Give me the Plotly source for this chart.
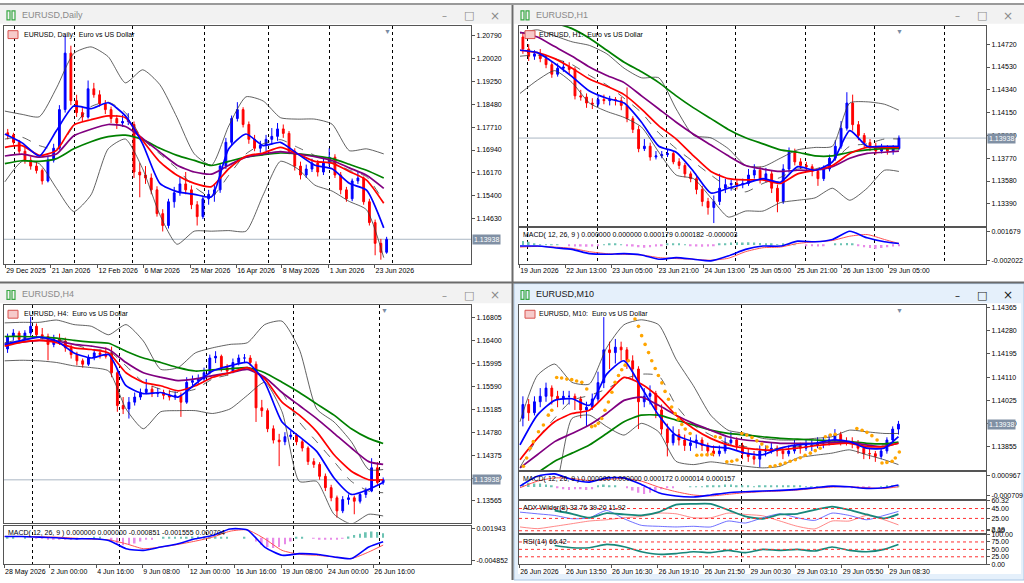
import plotly.graph_objects as go

W, H = 1024, 583
FONT = "Liberation Sans, Arial, sans-serif"
FRAME = "#555555"
UP, DOWN = "#0000ff", "#ff0000"
LAST = 1.13938

# ---------------- EURUSD Daily ----------------
d_bar = list(range(1, 134, 2))
d_open = [1.1752, 1.1745, 1.1720, 1.1690, 1.1660, 1.1640, 1.1625, 1.1590, 1.1660, 1.1700,
          1.1830, 1.2020, 1.1860, 1.1820, 1.1805, 1.1900, 1.1880, 1.1850, 1.1830, 1.1800,
          1.1785, 1.1790, 1.1780, 1.1620, 1.1610, 1.1600, 1.1560, 1.1480, 1.1440, 1.1520,
          1.1550, 1.1580, 1.1560, 1.1510, 1.1470, 1.1530, 1.1545, 1.1560, 1.1640, 1.1720,
          1.1800, 1.1830, 1.1780, 1.1730, 1.1700, 1.1710, 1.1730, 1.1740, 1.1765, 1.1750,
          1.1690, 1.1640, 1.1610, 1.1630, 1.1650, 1.1620, 1.1650, 1.1670, 1.1610, 1.1560,
          1.1530, 1.1590, 1.1600, 1.1520, 1.1450, 1.1380, 1.1350]
d_high = [1.1765, 1.1752, 1.1728, 1.1705, 1.1672, 1.1655, 1.1632, 1.1672, 1.1715, 1.1845,
          1.2080, 1.2045, 1.1880, 1.1835, 1.1928, 1.1920, 1.1895, 1.1862, 1.1840, 1.1812,
          1.1812, 1.1818, 1.1790, 1.1650, 1.1640, 1.1615, 1.1572, 1.1495, 1.1530, 1.1570,
          1.1605, 1.1620, 1.1575, 1.1522, 1.1540, 1.1560, 1.1580, 1.1650, 1.1735, 1.1810,
          1.1855, 1.1838, 1.1790, 1.1745, 1.1725, 1.1745, 1.1768, 1.1785, 1.1780, 1.1758,
          1.1700, 1.1655, 1.1645, 1.1665, 1.1660, 1.1665, 1.1700, 1.1680, 1.1620, 1.1570,
          1.1598, 1.1620, 1.1605, 1.1530, 1.1460, 1.1395, 1.1402]
d_low = [1.1730, 1.1712, 1.1680, 1.1648, 1.1628, 1.1615, 1.1578, 1.1585, 1.1652, 1.1695,
         1.1820, 1.1845, 1.1805, 1.1790, 1.1800, 1.1870, 1.1840, 1.1815, 1.1785, 1.1765,
         1.1772, 1.1778, 1.1600, 1.1535, 1.1580, 1.1545, 1.1470, 1.1420, 1.1430, 1.1500,
         1.1540, 1.1545, 1.1495, 1.1440, 1.1462, 1.1510, 1.1520, 1.1550, 1.1630, 1.1710,
         1.1790, 1.1770, 1.1715, 1.1690, 1.1685, 1.1690, 1.1712, 1.1725, 1.1735, 1.1680,
         1.1625, 1.1595, 1.1600, 1.1620, 1.1605, 1.1610, 1.1640, 1.1600, 1.1545, 1.1520,
         1.1522, 1.1580, 1.1510, 1.1440, 1.1340, 1.1325, 1.1345]
d_close = [1.1745, 1.1720, 1.1690, 1.1660, 1.1640, 1.1625, 1.1590, 1.1660, 1.1700, 1.1830,
           1.2020, 1.1860, 1.1820, 1.1805, 1.1900, 1.1880, 1.1850, 1.1830, 1.1800, 1.1785,
           1.1790, 1.1795, 1.1620, 1.1610, 1.1600, 1.1560, 1.1480, 1.1440, 1.1520, 1.1550,
           1.1580, 1.1560, 1.1510, 1.1470, 1.1530, 1.1545, 1.1560, 1.1640, 1.1720, 1.1800,
           1.1830, 1.1780, 1.1730, 1.1700, 1.1710, 1.1730, 1.1740, 1.1765, 1.1750, 1.1690,
           1.1640, 1.1610, 1.1630, 1.1650, 1.1620, 1.1650, 1.1670, 1.1610, 1.1560, 1.1530,
           1.1590, 1.1600, 1.1520, 1.1450, 1.1380, 1.1350, 1.13938]
d_line_x = [0, 6, 12, 18, 24, 30, 36, 42, 48, 54, 60, 66, 72, 78, 84, 90, 96, 102, 108, 114, 120, 126, 132]
d_ma_blue = [1.1748, 1.1718, 1.1674, 1.1760, 1.1842, 1.1833, 1.1853, 1.1809, 1.1715, 1.1582, 1.1554, 1.1545,
             1.1537, 1.1698, 1.1748, 1.1709, 1.1720, 1.1681, 1.1643, 1.1631, 1.1582, 1.1559, 1.1432]
d_ma_red = [1.1703, 1.1709, 1.1676, 1.1693, 1.1778, 1.1796, 1.1809, 1.1803, 1.1726, 1.1654, 1.1609, 1.1582,
            1.1571, 1.1631, 1.1673, 1.1684, 1.1703, 1.1681, 1.1656, 1.1650, 1.1622, 1.1593, 1.1515]
d_ma_purple = [1.1674, 1.1680, 1.1670, 1.1681, 1.1742, 1.1764, 1.1780, 1.1773, 1.1733, 1.1687, 1.1643, 1.1620,
               1.1613, 1.1643, 1.1670, 1.1681, 1.1689, 1.1681, 1.1672, 1.1659, 1.1634, 1.1609, 1.1565]
d_ma_green = [1.1648, 1.1658, 1.1656, 1.1665, 1.1698, 1.1722, 1.1739, 1.1744, 1.1729, 1.1700, 1.1676, 1.1659,
              1.1642, 1.1656, 1.1670, 1.1678, 1.1684, 1.1681, 1.1674, 1.1665, 1.1646, 1.1626, 1.1600]
d_bb_mid = [1.1731, 1.1737, 1.1709, 1.1698, 1.1775, 1.1840, 1.1855, 1.1820, 1.1731, 1.1681, 1.1631, 1.1570,
            1.1537, 1.1609, 1.1681, 1.1715, 1.1729, 1.1703, 1.1676, 1.1654, 1.1626, 1.1604, 1.1521]
d_bb_up = [1.1825, 1.1814, 1.1806, 1.1903, 1.2019, 1.2041, 1.2008, 1.1920, 1.1964, 1.1914, 1.1803, 1.1681,
           1.1643, 1.1775, 1.1873, 1.1859, 1.1803, 1.1798, 1.1798, 1.1781, 1.1692, 1.1698, 1.1681]
d_bb_lo = [1.1587, 1.1656, 1.1648, 1.1565, 1.1487, 1.1543, 1.1698, 1.1731, 1.1631, 1.1476, 1.1377, 1.1421,
           1.1421, 1.1423, 1.1421, 1.1543, 1.1656, 1.1631, 1.1576, 1.1556, 1.1521, 1.1493, 1.1332]
d_price_ticks = [1.20790, 1.20020, 1.19250, 1.18480, 1.17710, 1.16940, 1.16170, 1.15400, 1.14630]
d_date_pos = [0.1, 16, 32.3, 48.3, 64.5, 80.6, 96.5, 112.8, 128.8]
d_date_text = ["29 Dec 2025", "21 Jan 2026", "12 Feb 2026", "6 Mar 2026", "25 Mar 2026",
               "16 Apr 2026", "8 May 2026", "1 Jun 2026", "23 Jun 2026"]
d_separators = [3.25, 24.4, 44.5, 69.7, 91.8, 113, 135.1]

# ---------------- EURUSD H1 ----------------
h1_bar = list(range(1, 132, 2))
h1_open = [1.1478, 1.1468, 1.1462, 1.1464, 1.1460, 1.1455, 1.1447, 1.1452, 1.1453, 1.1451,
           1.1429, 1.1428, 1.1423, 1.1422, 1.1426, 1.1425, 1.1426, 1.1425, 1.1421, 1.1410,
           1.1401, 1.1385, 1.1387, 1.1378, 1.1379, 1.1380, 1.1381, 1.1374, 1.1371, 1.1364,
           1.1360, 1.1351, 1.1341, 1.1336, 1.1341, 1.1352, 1.1355, 1.1356, 1.1355, 1.1356,
           1.1363, 1.1367, 1.1360, 1.1364, 1.1352, 1.1341, 1.1368, 1.1382, 1.1374, 1.1371,
           1.1370, 1.1366, 1.1360, 1.1368, 1.1377, 1.1387, 1.1402, 1.1423, 1.1405, 1.1396,
           1.1390, 1.1387, 1.1383, 1.1385, 1.1383, 1.1385]
h1_high = [1.1482, 1.1472, 1.1467, 1.1468, 1.1463, 1.1458, 1.1456, 1.1458, 1.1457, 1.1453,
           1.1434, 1.1431, 1.1427, 1.1429, 1.1430, 1.1429, 1.1428, 1.1428, 1.1436, 1.1412,
           1.1404, 1.1393, 1.1390, 1.1383, 1.1383, 1.1384, 1.1383, 1.1377, 1.1373, 1.1366,
           1.1362, 1.1354, 1.1344, 1.1346, 1.1364, 1.1360, 1.1359, 1.1359, 1.1360, 1.1368,
           1.1372, 1.1370, 1.1369, 1.1367, 1.1355, 1.1372, 1.1386, 1.1385, 1.1377, 1.1374,
           1.1372, 1.1368, 1.1371, 1.1380, 1.1392, 1.1408, 1.1432, 1.1430, 1.1408, 1.1398,
           1.1393, 1.1390, 1.1389, 1.1388, 1.1388, 1.1396]
h1_low = [1.1464, 1.1458, 1.1459, 1.1457, 1.1452, 1.1444, 1.1445, 1.1449, 1.1447, 1.1426,
          1.1425, 1.1419, 1.1418, 1.1420, 1.1422, 1.1421, 1.1421, 1.1417, 1.1407, 1.1398,
          1.1382, 1.1383, 1.1375, 1.1376, 1.1377, 1.1378, 1.1372, 1.1368, 1.1361, 1.1357,
          1.1347, 1.1337, 1.1330, 1.1323, 1.1338, 1.1348, 1.1350, 1.1351, 1.1352, 1.1354,
          1.1360, 1.1356, 1.1357, 1.1348, 1.1332, 1.1339, 1.1365, 1.1371, 1.1368, 1.1366,
          1.1362, 1.1354, 1.1358, 1.1366, 1.1375, 1.1385, 1.1400, 1.1400, 1.1392, 1.1386,
          1.1383, 1.1380, 1.1381, 1.1380, 1.1380, 1.1384]
h1_close = [1.1468, 1.1462, 1.1464, 1.1460, 1.1455, 1.1447, 1.1452, 1.1453, 1.1451, 1.1429,
            1.1428, 1.1423, 1.1422, 1.1426, 1.1425, 1.1426, 1.1425, 1.1421, 1.1410, 1.1401,
            1.1385, 1.1387, 1.1378, 1.1379, 1.1380, 1.1381, 1.1374, 1.1371, 1.1364, 1.1360,
            1.1351, 1.1341, 1.1336, 1.1341, 1.1352, 1.1355, 1.1356, 1.1355, 1.1356, 1.1363,
            1.1367, 1.1360, 1.1364, 1.1352, 1.1341, 1.1368, 1.1382, 1.1374, 1.1371, 1.1370,
            1.1366, 1.1360, 1.1368, 1.1377, 1.1387, 1.1402, 1.1423, 1.1405, 1.1396, 1.1390,
            1.1387, 1.1383, 1.1385, 1.1383, 1.1385, 1.13938]
h1_line_x = [0, 6, 12, 18, 24, 30, 36, 42, 48, 54, 60, 66, 72, 78, 84, 90, 96, 102, 108, 114, 120, 126, 131]
h1_ma_blue = [1.1467, 1.1465, 1.1456, 1.1445, 1.1433, 1.1427, 1.1423, 1.1407, 1.1387, 1.1382, 1.1366, 1.1348,
              1.1352, 1.1356, 1.1360, 1.1357, 1.1370, 1.1367, 1.1374, 1.1400, 1.1387, 1.1387, 1.1387]
h1_ma_red = [1.1467, 1.1465, 1.1460, 1.1452, 1.1443, 1.1437, 1.1430, 1.1418, 1.1404, 1.1393, 1.1379, 1.1366,
             1.1360, 1.1359, 1.1359, 1.1356, 1.1364, 1.1367, 1.1371, 1.1381, 1.1386, 1.1386, 1.1386]
h1_ma_purple = [1.1482, 1.1478, 1.1470, 1.1462, 1.1453, 1.1446, 1.1440, 1.1429, 1.1418, 1.1407, 1.1397, 1.1388,
                1.1379, 1.1371, 1.1368, 1.1366, 1.1367, 1.1367, 1.1370, 1.1377, 1.1381, 1.1382, 1.1383]
h1_ma_green = [1.1503, 1.1496, 1.1490, 1.1485, 1.1477, 1.1467, 1.1457, 1.1449, 1.1440, 1.1429, 1.1419, 1.1410,
               1.1401, 1.1394, 1.1389, 1.1384, 1.1382, 1.1379, 1.1379, 1.1382, 1.1384, 1.1385, 1.1385]
h1_bb_mid = [1.1462, 1.1463, 1.1460, 1.1455, 1.1446, 1.1438, 1.1427, 1.1415, 1.1398, 1.1385, 1.1374, 1.1363,
             1.1353, 1.1349, 1.1356, 1.1361, 1.1368, 1.1368, 1.1374, 1.1387, 1.1389, 1.1393, 1.1393]
h1_bb_up = [1.1481, 1.1484, 1.1479, 1.1474, 1.1471, 1.1464, 1.1452, 1.1444, 1.1444, 1.1418, 1.1396, 1.1394,
            1.1385, 1.1371, 1.1370, 1.1377, 1.1384, 1.1386, 1.1387, 1.1423, 1.1424, 1.1422, 1.1417]
h1_bb_lo = [1.1431, 1.1442, 1.1450, 1.1440, 1.1423, 1.1416, 1.1411, 1.1403, 1.1382, 1.1363, 1.1360, 1.1344,
            1.1328, 1.1333, 1.1333, 1.1340, 1.1342, 1.1344, 1.1352, 1.1342, 1.1352, 1.1367, 1.1366]
h1_macd = [-0.000148, -0.000148, -0.000361, -0.000574, -0.001126, -0.001211, -0.001126, -0.001296, -0.001849,
           -0.001636, -0.001849, -0.002061, -0.001424, -0.000574, -0.000148, -0.000148, 0.000489, 0.000404,
           0.000702, 0.001764, 0.000914, 0.000404, 0.000179]
h1_signal = [-0.000276, -0.000191, -0.000276, -0.000446, -0.000871, -0.001126, -0.001211, -0.001296, -0.001636,
             -0.001764, -0.001849, -0.001976, -0.001721, -0.000871, -0.000361, -0.000276, 0.000192, 0.000404,
             0.000574, 0.001126, 0.001339, 0.000702, 0.000182]
h1_hist = [0.0005, 0.0004, 0.0001, 0.00005, 0.00005, 0.00003, 0.00002, 0.0, -0.0001, -0.0002,
           -0.0002, -0.00025, -0.0002, -0.00015, 0.00005, 0.0001, 0.0001, 0.00005, -0.0001, -0.0002,
           -0.0003, -0.00035, -0.0003, -0.0002, -0.0001, 0.0001, 0.00015, 0.0001, 0.00002, -0.0001,
           -0.0002, -0.00025, -0.0002, -0.0001, 0.0001, 0.0002, 0.0003, 0.00035, 0.0003, 0.00035,
           0.0003, 0.00025, 0.0002, 0.0001, 0.00005, 0.0001, 0.0001, 0.00005, 0.0, -0.0001,
           -0.00015, -0.0002, -0.0001, 0.0, 0.0001, 0.0002, 0.00025, 0.0002, -0.0001, -0.0003,
           -0.0004, -0.0005, -0.0004, -0.0003, -0.0002, -0.0001]
h1_price_ticks = [1.14720, 1.14530, 1.14340, 1.14150, 1.13960, 1.13770, 1.13580, 1.13390]
h1_macd_ticks = [0.001679, -0.002022]
h1_date_pos = [-0.3, 15.6, 31.5, 47.5, 63.4, 79.4, 95.4, 111.3, 127.3]
h1_date_text = ["19 Jun 2026", "22 Jun 13:00", "23 Jun 05:00", "23 Jun 21:00", "24 Jun 13:00",
                "25 Jun 05:00", "25 Jun 21:00", "26 Jun 13:00", "29 Jun 05:00"]
h1_separators = [2.65, 26.8, 50.8, 74.6, 98.6, 122.6, 146.7]

# ---------------- EURUSD H4 ----------------
h4_bar = list(range(1, 132, 2))
h4_open = [1.1625, 1.1647, 1.1653, 1.1642, 1.1653, 1.1665, 1.1650, 1.1647, 1.1633, 1.1642,
           1.1639, 1.1627, 1.1615, 1.1604, 1.1598, 1.1610, 1.1618, 1.1615, 1.1617, 1.1583,
           1.1525, 1.1519, 1.1531, 1.1540, 1.1548, 1.1554, 1.1546, 1.1548, 1.1543, 1.1540,
           1.1543, 1.1531, 1.1566, 1.1569, 1.1572, 1.1583, 1.1609, 1.1612, 1.1592, 1.1586,
           1.1601, 1.1609, 1.1609, 1.1598, 1.1521, 1.1516, 1.1484, 1.1464, 1.1461, 1.1470,
           1.1473, 1.1461, 1.1450, 1.1426, 1.1421, 1.1400, 1.1380, 1.1362, 1.1339, 1.1359,
           1.1362, 1.1356, 1.1368, 1.1374, 1.1415, 1.1389]
h4_high = [1.1652, 1.1660, 1.1657, 1.1658, 1.1682, 1.1670, 1.1662, 1.1652, 1.1650, 1.1652,
           1.1645, 1.1632, 1.1620, 1.1608, 1.1615, 1.1625, 1.1624, 1.1628, 1.1629, 1.1590,
           1.1540, 1.1540, 1.1548, 1.1555, 1.1572, 1.1560, 1.1556, 1.1553, 1.1552, 1.1550,
           1.1548, 1.1575, 1.1578, 1.1580, 1.1592, 1.1615, 1.1621, 1.1615, 1.1598, 1.1608,
           1.1615, 1.1616, 1.1614, 1.1603, 1.1535, 1.1520, 1.1490, 1.1475, 1.1478, 1.1480,
           1.1476, 1.1465, 1.1453, 1.1432, 1.1425, 1.1405, 1.1385, 1.1366, 1.1365, 1.1368,
           1.1366, 1.1372, 1.1380, 1.1432, 1.1425, 1.1398]
h4_low = [1.1618, 1.1640, 1.1635, 1.1638, 1.1648, 1.1645, 1.1642, 1.1605, 1.1628, 1.1632,
          1.1620, 1.1608, 1.1596, 1.1592, 1.1595, 1.1605, 1.1608, 1.1608, 1.1575, 1.1514,
          1.1510, 1.1502, 1.1525, 1.1535, 1.1545, 1.1540, 1.1540, 1.1536, 1.1534, 1.1535,
          1.1505, 1.1528, 1.1560, 1.1562, 1.1568, 1.1580, 1.1600, 1.1585, 1.1578, 1.1582,
          1.1596, 1.1600, 1.1595, 1.1496, 1.1505, 1.1478, 1.1458, 1.1418, 1.1455, 1.1465,
          1.1455, 1.1444, 1.1420, 1.1415, 1.1394, 1.1374, 1.1356, 1.1327, 1.1335, 1.1350,
          1.1333, 1.1352, 1.1362, 1.1372, 1.1385, 1.1385]
h4_close = [1.1647, 1.1653, 1.1642, 1.1653, 1.1665, 1.1650, 1.1647, 1.1633, 1.1642, 1.1639,
            1.1627, 1.1615, 1.1604, 1.1598, 1.1610, 1.1618, 1.1615, 1.1612, 1.1583, 1.1525,
            1.1519, 1.1531, 1.1540, 1.1548, 1.1554, 1.1546, 1.1548, 1.1543, 1.1540, 1.1543,
            1.1531, 1.1566, 1.1569, 1.1572, 1.1583, 1.1609, 1.1612, 1.1592, 1.1586, 1.1601,
            1.1609, 1.1609, 1.1601, 1.1521, 1.1516, 1.1484, 1.1464, 1.1461, 1.1470, 1.1473,
            1.1461, 1.1450, 1.1426, 1.1421, 1.1400, 1.1380, 1.1362, 1.1339, 1.1359, 1.1362,
            1.1356, 1.1368, 1.1374, 1.1415, 1.1389, 1.13938]
h4_line_x = [0, 6, 12, 18, 24, 30, 36, 42, 48, 54, 60, 66, 72, 78, 84, 90, 96, 102, 108, 114, 120, 126, 131]
h4_ma_blue = [1.1633, 1.1640, 1.1646, 1.1639, 1.1618, 1.1609, 1.1615, 1.1560, 1.1546, 1.1548, 1.1540, 1.1563,
              1.1586, 1.1595, 1.1601, 1.1566, 1.1496, 1.1470, 1.1444, 1.1397, 1.1368, 1.1377, 1.1389]
h4_ma_red = [1.1630, 1.1637, 1.1640, 1.1636, 1.1627, 1.1624, 1.1618, 1.1583, 1.1566, 1.1560, 1.1551, 1.1560,
             1.1575, 1.1583, 1.1592, 1.1572, 1.1531, 1.1508, 1.1479, 1.1438, 1.1409, 1.1394, 1.1394]
h4_ma_purple = [1.1633, 1.1637, 1.1640, 1.1639, 1.1633, 1.1630, 1.1624, 1.1601, 1.1583, 1.1575, 1.1569, 1.1572,
                1.1578, 1.1583, 1.1589, 1.1575, 1.1548, 1.1525, 1.1502, 1.1476, 1.1450, 1.1426, 1.1421]
h4_ma_green = [1.1647, 1.1647, 1.1646, 1.1644, 1.1640, 1.1637, 1.1635, 1.1621, 1.1609, 1.1601, 1.1592, 1.1586,
               1.1588, 1.1590, 1.1592, 1.1583, 1.1566, 1.1548, 1.1528, 1.1508, 1.1484, 1.1467, 1.1458]
h4_bb_mid = [1.1636, 1.1642, 1.1644, 1.1642, 1.1633, 1.1624, 1.1621, 1.1595, 1.1566, 1.1554, 1.1548, 1.1554,
             1.1572, 1.1580, 1.1592, 1.1575, 1.1548, 1.1496, 1.1461, 1.1426, 1.1391, 1.1374, 1.1371]
h4_bb_up = [1.1671, 1.1672, 1.1672, 1.1676, 1.1668, 1.1665, 1.1650, 1.1668, 1.1639, 1.1589, 1.1592, 1.1618,
            1.1627, 1.1633, 1.1636, 1.1668, 1.1674, 1.1624, 1.1519, 1.1496, 1.1461, 1.1412, 1.1412]
h4_bb_lo = [1.1604, 1.1605, 1.1604, 1.1601, 1.1595, 1.1592, 1.1586, 1.1519, 1.1484, 1.1514, 1.1516, 1.1516,
            1.1511, 1.1519, 1.1543, 1.1566, 1.1514, 1.1391, 1.1391, 1.1333, 1.1316, 1.1333, 1.1330]
h4_macd = [0.000299, 0.000299, 0.000156, 0.000013, -0.000202, -0.000202, -0.000560, -0.002347, -0.002705,
           -0.001990, -0.001275, -0.000202, 0.000513, 0.001943, 0.001729, -0.001990, -0.003777, -0.003420,
           -0.003563, -0.004135, -0.004492, -0.001990, -0.000851]
h4_signal = [0.000299, 0.000299, 0.000227, 0.000156, -0.000059, -0.000274, -0.000417, -0.001275, -0.002347,
             -0.001990, -0.001418, -0.000703, 0.000156, 0.001443, 0.001729, -0.000202, -0.002705, -0.003563,
             -0.003777, -0.004135, -0.004492, -0.003063, -0.001555]
h4_hist = [0.00005, 0.00005, 0.0, 0.00005, 0.0, -0.00005, -0.0001, -0.0002, -0.0002, -0.0003,
           -0.0003, -0.0003, -0.0002, -0.0001, 0.0, 0.0001, 0.0001, 0.0, -0.0006, -0.0012,
           -0.0016, -0.0015, -0.0012, -0.0008, -0.0004, -0.0002, 0.0, 0.0001, 0.0002, 0.0002,
           0.0001, 0.0002, 0.0003, 0.0003, 0.0003, 0.0002, 0.0002, 0.0001, 0.0001, 0.0,
           0.0, 0.0001, 0.0, -0.0008, -0.0015, -0.0020, -0.0022, -0.0020, -0.0014, -0.0008,
           0.0001, 0.0002, 0.0, -0.0001, -0.0003, -0.0004, -0.0004, -0.0003, -0.0001, 0.0003,
           0.0006, 0.0009, 0.0012, 0.0014, 0.0013, 0.0010]
h4_price_ticks = [1.16805, 1.16400, 1.15995, 1.15590, 1.15185, 1.14780, 1.14375, 1.13970, 1.13565]
h4_macd_ticks = [0.001943, -0.004852]
h4_date_pos = [-0.2, 15.6, 31.7, 47.6, 63.7, 79.7, 95.7, 111.6, 127.6]
h4_date_text = ["28 May 2026", "2 Jun 00:00", "4 Jun 16:00", "9 Jun 08:00", "12 Jun 00:00",
                "16 Jun 16:00", "19 Jun 08:00", "24 Jun 00:00", "26 Jun 16:00"]
h4_separators = [9.8, 39.8, 69.8, 99.8, 129.8]

# ---------------- EURUSD M10 ----------------
m10_bar = list(range(1, 132, 2))
m10_open = [1.1396, 1.1401, 1.1398, 1.1402, 1.1404, 1.1407, 1.1404, 1.1403, 1.1404, 1.1404,
            1.1403, 1.1399, 1.1400, 1.1403, 1.1409, 1.1421, 1.1420, 1.1422, 1.1421, 1.1417,
            1.1414, 1.1402, 1.1404, 1.1405, 1.1399, 1.1392, 1.1387, 1.1390, 1.1388, 1.1386,
            1.1387, 1.1388, 1.1386, 1.1384, 1.1383, 1.1384, 1.1387, 1.1388, 1.1386, 1.1383,
            1.1382, 1.1381, 1.1384, 1.1384, 1.1385, 1.1384, 1.1383, 1.1384, 1.1386, 1.1385,
            1.1386, 1.1386, 1.1387, 1.1387, 1.1388, 1.1390, 1.1387, 1.1387, 1.1387, 1.1385,
            1.1383, 1.1383, 1.1382, 1.1384, 1.1388, 1.1392]
m10_high = [1.1404, 1.1403, 1.1404, 1.1407, 1.1409, 1.1408, 1.1406, 1.1406, 1.1406, 1.1405,
            1.1404, 1.1402, 1.1405, 1.1413, 1.1433, 1.1424, 1.1425, 1.1424, 1.1422, 1.1419,
            1.1415, 1.1407, 1.1408, 1.1406, 1.1401, 1.1394, 1.1393, 1.1392, 1.1390, 1.1389,
            1.1390, 1.1389, 1.1387, 1.1386, 1.1386, 1.1389, 1.1391, 1.1389, 1.1387, 1.1385,
            1.1384, 1.1386, 1.1386, 1.1387, 1.1386, 1.1385, 1.1386, 1.1388, 1.1387, 1.1388,
            1.1388, 1.1389, 1.1389, 1.1390, 1.1392, 1.1391, 1.1389, 1.1389, 1.1388, 1.1386,
            1.1385, 1.1384, 1.1385, 1.1389, 1.1393, 1.1395]
m10_low = [1.1393, 1.1395, 1.1397, 1.1400, 1.1402, 1.1401, 1.1400, 1.1401, 1.1401, 1.1399,
           1.1396, 1.1393, 1.1399, 1.1402, 1.1407, 1.1414, 1.1416, 1.1417, 1.1414, 1.1410,
           1.1392, 1.1400, 1.1401, 1.1396, 1.1390, 1.1382, 1.1386, 1.1386, 1.1384, 1.1384,
           1.1385, 1.1384, 1.1382, 1.1382, 1.1382, 1.1383, 1.1386, 1.1384, 1.1381, 1.1380,
           1.1379, 1.1378, 1.1382, 1.1383, 1.1382, 1.1381, 1.1382, 1.1383, 1.1383, 1.1384,
           1.1384, 1.1385, 1.1385, 1.1386, 1.1387, 1.1386, 1.1386, 1.1385, 1.1383, 1.1381,
           1.1381, 1.1380, 1.1381, 1.1383, 1.1387, 1.1390]
m10_close = [1.1401, 1.1398, 1.1402, 1.1404, 1.1407, 1.1404, 1.1403, 1.1404, 1.1404, 1.1403,
             1.1399, 1.1400, 1.1403, 1.1409, 1.1421, 1.1420, 1.1422, 1.1421, 1.1417, 1.1414,
             1.1402, 1.1404, 1.1405, 1.1399, 1.1392, 1.1387, 1.1390, 1.1388, 1.1386, 1.1387,
             1.1388, 1.1386, 1.1384, 1.1383, 1.1384, 1.1387, 1.1388, 1.1386, 1.1383, 1.1382,
             1.1381, 1.1384, 1.1384, 1.1385, 1.1384, 1.1383, 1.1384, 1.1386, 1.1385, 1.1386,
             1.1386, 1.1387, 1.1387, 1.1388, 1.1390, 1.1387, 1.1387, 1.1387, 1.1385, 1.1383,
             1.1383, 1.1382, 1.1384, 1.1388, 1.1392, 1.13938]
m10_line_x = [0, 6, 12, 18, 24, 30, 36, 42, 48, 54, 60, 66, 72, 78, 84, 90, 96, 102, 108, 114, 120, 126, 131]
m10_ma_blue = [1.13862, 1.13971, 1.14025, 1.14031, 1.14007, 1.14121, 1.14170, 1.14073, 1.13971, 1.13898,
               1.13874, 1.13856, 1.13850, 1.13832, 1.13826, 1.13850, 1.13862, 1.13868, 1.13880, 1.13874,
               1.13850, 1.13850, 1.13892]
m10_ma_red = [1.13808, 1.13886, 1.13947, 1.13977, 1.13989, 1.14049, 1.14109, 1.14085, 1.14037, 1.13971,
              1.13922, 1.13886, 1.13862, 1.13850, 1.13844, 1.13844, 1.13850, 1.13859, 1.13865, 1.13868,
              1.13856, 1.13856, 1.13868]
m10_ma_purple = [1.13778, 1.13826, 1.13874, 1.13904, 1.13935, 1.13977, 1.14025, 1.14037, 1.14007, 1.13971,
                 1.13941, 1.13916, 1.13892, 1.13880, 1.13874, 1.13868, 1.13868, 1.13868, 1.13871, 1.13872,
                 1.13862, 1.13856, 1.13868]
m10_ma_green = [1.13730, 1.13760, 1.13802, 1.13832, 1.13862, 1.13904, 1.13947, 1.13971, 1.13971, 1.13953,
                1.13935, 1.13916, 1.13904, 1.13898, 1.13892, 1.13886, 1.13883, 1.13880, 1.13877, 1.13874,
                1.13868, 1.13866, 1.13872]
m10_bb_mid = [1.13780, 1.13885, 1.13960, 1.14025, 1.14043, 1.14067, 1.14103, 1.14121, 1.14115, 1.14007,
              1.13935, 1.13898, 1.13868, 1.13856, 1.13844, 1.13850, 1.13856, 1.13862, 1.13868, 1.13874,
              1.13862, 1.13862, 1.13874]
m10_bb_up = [1.13947, 1.14116, 1.14158, 1.14091, 1.14085, 1.14218, 1.14302, 1.14320, 1.14302, 1.14176,
             1.14079, 1.13971, 1.13916, 1.13904, 1.13886, 1.13880, 1.13880, 1.13886, 1.13892, 1.13916,
             1.13910, 1.13904, 1.13904]
m10_bb_lo = [1.13616, 1.13652, 1.13700, 1.13959, 1.13971, 1.13929, 1.13898, 1.13941, 1.13910, 1.13802,
             1.13790, 1.13800, 1.13792, 1.13784, 1.13778, 1.13784, 1.13814, 1.13824, 1.13832, 1.13844,
             1.13826, 1.13808, 1.13790]
m10_sar_x = [1.2, 2.3, 3.5, 4.6, 6.4, 8.1, 9.8, 11.0,
             12.7, 14.4, 16.2, 17.9, 19.6, 21.4, 23.1,
             24.8, 26.0, 27.1, 28.3, 29.4, 30.6, 31.8, 32.9, 34.1, 35.2, 36.4, 37.5,
             39.8, 41.0, 42.1, 43.3, 44.5, 45.6, 46.8, 47.9, 49.1, 50.2, 51.4, 52.5, 53.7, 54.8, 56.0, 57.2, 58.9,
             61.2, 62.9, 64.7, 66.4,
             67.6, 69.3,
             71.6, 73.3, 75.1,
             76.8, 78.5, 80.3, 82.0, 83.7, 85.5,
             86.6, 88.3, 90.1, 91.8, 93.5, 95.3, 97.0, 98.7, 100.5, 102.2, 103.9,
             105.7, 107.4, 109.1,
             116.6, 118.4, 120.1, 121.8, 123.6,
             125.3, 127.0, 128.8, 129.9, 131.3]
m10_sar_y = [1.13784, 1.13814, 1.13850, 1.13874, 1.13910, 1.13935, 1.13971, 1.13989,
             1.14109, 1.14107, 1.14103, 1.14101, 1.14096, 1.14091, 1.14067,
             1.13929, 1.13932, 1.13941, 1.13959, 1.13989, 1.14019, 1.14055, 1.14091, 1.14116, 1.14137, 1.14154, 1.14170,
             1.14323, 1.14296, 1.14262, 1.14230, 1.14200, 1.14170, 1.14142, 1.14116, 1.14089, 1.14058, 1.14029,
             1.14001, 1.13977, 1.13956, 1.13937, 1.13920, 1.13904,
             1.13824, 1.13825, 1.13826, 1.13828,
             1.13892, 1.13889,
             1.13800, 1.13802, 1.13807,
             1.13904, 1.13898, 1.13889, 1.13877, 1.13865, 1.13854,
             1.13783, 1.13786, 1.13791, 1.13796, 1.13802, 1.13808, 1.13815, 1.13824, 1.13832, 1.13841, 1.13850,
             1.13892, 1.13898, 1.13901,
             1.13922, 1.13916, 1.13908, 1.13896, 1.13880,
             1.13796, 1.13798, 1.13802, 1.13814, 1.13836]
m10_macd = [0.000074, 0.000911, 0.001107, 0.000632, 0.000409, 0.000772, 0.000772, 0.000214, -0.000484,
            -0.000763, -0.000847, -0.000679, -0.000484, -0.000400, -0.000344, -0.000289, -0.000205, -0.000065,
            0.000074, 0.000018, -0.000121, -0.000065, 0.000172]
m10_signal = [-0.000065, 0.000493, 0.000772, 0.000716, 0.000549, 0.000632, 0.000716, 0.000493, -0.000010,
              -0.000400, -0.000679, -0.000763, -0.000623, -0.000484, -0.000400, -0.000344, -0.000261, -0.000121,
              -0.000010, 0.000018, -0.000065, -0.000121, 0.000014]
m10_hist = [0.0003, 0.00035, 0.0003, 0.0003, 0.0002, 0.0001, -0.0001, -0.0002, -0.00025, -0.0002,
            -0.0002, -0.00025, -0.0002, 0.0001, 0.0002, 0.00015, 0.0001, 0.0, -0.0001, -0.0003,
            -0.0005, -0.0006, -0.0005, -0.0004, -0.0002, -0.0001, -0.00005, 0.0, 0.0, 0.00003,
            0.00003, 0.00005, 0.0001, 0.0001, 0.00015, 0.0002, 0.0002, 0.00015, 0.0001, 0.0001,
            0.00005, 0.0001, 0.0001, 0.0001, 0.0001, 0.0001, 0.0001, 0.00008, 0.00008, 0.00005,
            0.00005, 0.00005, 0.00005, 0.00003, 0.00005, 0.0, 0.0, -0.00003, -0.00005, -0.00005,
            -0.00003, 0.0, 0.00005, 0.0001, 0.00015, 0.00015]
m10_adx = [None, None, 41.0, 34.3, 26.3, 35.7, 33.0, 31.0, 37.7, 53.0, 54.3, 54.3, 42.3, 29.0, 24.3, 33.0,
           34.3, 42.3, 49.0, 42.3, 33.0, 25.0, 33.76]
m10_plus_di = [37.7, 34.3, 31.0, 24.3, 26.3, 41.0, 24.3, 11.0, 9.0, 7.7, 9.0, 7.7, 19.7, 15.7, 26.3, 34.3,
               26.3, 21.0, 35.7, 31.0, 22.3, 31.0, 39.20]
m10_minus_di = [7.7, 4.3, 9.0, 14.3, 19.7, 22.3, 26.3, 29.0, 35.7, 34.3, 26.3, 26.3, 35.7, 33.0, 30.3, 19.7,
                9.0, 3.7, 19.7, 19.7, 31.0, 22.3, 11.92]
m10_rsi = [None, None, 63.3, 55.6, 55.6, 66.7, 58.9, 42.2, 33.3, 35.6, 42.2, 38.9, 46.7, 38.9, 50.0, 46.7,
           50.0, 44.4, 57.8, 46.7, 42.2, 50.0, 66.42]
m10_price_ticks = [1.14365, 1.14280, 1.14195, 1.14110, 1.14025, 1.13940, 1.13855]
m10_macd_ticks = [0.000967, -0.000709]
adx_ticks = [60.32, 45.0, 25.0, 2.19, 0.0]
adx_levels = [45, 25, 0]
rsi_ticks = [100, 75, 50, 25, 0]
rsi_levels = [75, 50, 25]
m10_date_pos = [-0.3, 15.6, 31.5, 47.6, 63.5, 79.4, 95.5, 111.4, 127.5]
m10_date_text = ["26 Jun 2026", "26 Jun 13:50", "26 Jun 16:30", "26 Jun 19:10", "26 Jun 21:50",
                 "29 Jun 00:30", "29 Jun 03:10", "29 Jun 05:50", "29 Jun 08:30"]
m10_separators = [76.8]


def dx(left, right):
    return [left / W, right / W]


def dy(top, bottom):
    return [1 - bottom / H, 1 - top / H]


fig = go.Figure()
layout = {}
shapes = []
annotations = []


def x_axis(name, domain, rng, anchor, seps, pos=None, text=None):
    cfg = dict(domain=domain, range=rng, anchor=anchor, showgrid=False, zeroline=False,
               showline=True, mirror=True, linecolor=FRAME, linewidth=1,
               rangeslider=dict(visible=False), fixedrange=True,
               minor=dict(tickmode="array", tickvals=seps, showgrid=True, gridcolor="#000000",
                          griddash="dot", gridwidth=1, ticks=""))
    if pos is None:
        cfg.update(showticklabels=False, ticks="")
    else:
        cfg.update(tickmode="array", tickvals=pos, ticktext=text, ticks="outside", ticklen=3,
                   tickcolor=FRAME, ticklabelposition="outside right", tickangle=0,
                   tickfont=dict(family=FONT, size=7, color="#000"))
    layout["xaxis" + name[1:]] = cfg


def y_axis(name, domain, rng, anchor, vals, texts):
    layout["yaxis" + name[1:]] = dict(
        domain=domain, range=rng, anchor=anchor, side="right", showgrid=False, zeroline=False,
        showline=True, mirror=True, linecolor=FRAME, linewidth=1, ticks="outside", ticklen=3,
        tickcolor=FRAME, tickmode="array", tickvals=vals, ticktext=texts,
        tickfont=dict(family=FONT, size=7, color="#000"), fixedrange=True)


def price_chart(xa, ya, bars, o, h, l, c, lx, blue, red, purple, green, mid, up, lo, title):
    fig.add_trace(go.Candlestick(
        x=bars, open=o, high=h, low=l, close=c, xaxis=xa, yaxis=ya, whiskerwidth=0,
        increasing=dict(line=dict(color=UP, width=1), fillcolor=UP),
        decreasing=dict(line=dict(color=DOWN, width=1), fillcolor=DOWN),
        hoverinfo="skip"))
    for ys, color, width, dash in [(up, "#3a3a3a", 0.8, "solid"), (lo, "#3a3a3a", 0.8, "solid"),
                                   (mid, "#3a3a3a", 0.8, "dash"), (green, "#008000", 1.7, "solid"),
                                   (purple, "#800080", 1.7, "solid"), (red, "#ff0000", 1.7, "solid"),
                                   (blue, "#0000ff", 1.7, "solid")]:
        fig.add_trace(go.Scatter(x=lx, y=ys, mode="lines", xaxis=xa, yaxis=ya, hoverinfo="skip",
                                 line=dict(color=color, width=width, dash=dash, shape="spline",
                                           smoothing=0.6)))
    # current price line and label
    shapes.append(dict(type="line", xref=xa + " domain", x0=0, x1=1, yref=ya, y0=LAST, y1=LAST,
                       line=dict(color="#aab6c3", width=1), layer="below"))
    annotations.append(dict(xref=xa + " domain", x=1, xanchor="left", xshift=1, yref=ya, y=LAST,
                            text=f"{LAST:.5f}", showarrow=False, bgcolor="#8090a4", borderpad=1,
                            font=dict(family=FONT, size=7, color="#ffffff")))
    annotations.append(dict(xref=xa + " domain", x=0, xanchor="left", xshift=18, yref=ya + " domain",
                            y=1, yanchor="top", yshift=-3, text=title, showarrow=False,
                            font=dict(family=FONT, size=7, color="#000000")))
    annotations.append(dict(xref=xa, x=bars[-1] + 0.3, yref=ya + " domain", y=1, yanchor="top",
                            text="▼", showarrow=False, font=dict(size=7, color="#7a8ba3")))


def macd_pane(xa, ya, bars, hist, lx, macd, signal, label):
    colors = ["#6cc3b3" if v >= 0 else "#e88be8" for v in hist]
    fig.add_trace(go.Bar(x=bars, y=hist, width=0.6, marker=dict(color=colors, line=dict(width=0)),
                         xaxis=xa, yaxis=ya, hoverinfo="skip"))
    fig.add_trace(go.Scatter(x=lx, y=signal, mode="lines", xaxis=xa, yaxis=ya, hoverinfo="skip",
                             line=dict(color="#ff5050", width=1, shape="spline", smoothing=0.6)))
    fig.add_trace(go.Scatter(x=lx, y=macd, mode="lines", xaxis=xa, yaxis=ya, hoverinfo="skip",
                             line=dict(color="#0000ff", width=1.6, shape="spline", smoothing=0.6)))
    annotations.append(dict(xref=xa + " domain", x=0, xanchor="left", xshift=2, yref=ya + " domain",
                            y=1, yanchor="top", yshift=-1, text=label, showarrow=False,
                            font=dict(family=FONT, size=7, color="#000000")))


def fmt(vals, digits):
    return [f"{v:.{digits}f}" for v in vals]


# ---- Daily window ----
x_axis("x", dx(4, 471), [-0.3, 162.4], "y", d_separators, d_date_pos, d_date_text)
y_axis("y", dy(22, 263), [1.13111, 1.21122], "x", d_price_ticks, fmt(d_price_ticks, 5))
price_chart("x", "y", d_bar, d_open, d_high, d_low, d_close, d_line_x, d_ma_blue, d_ma_red,
            d_ma_purple, d_ma_green, d_bb_mid, d_bb_up, d_bb_lo, "EURUSD, Daily:  Euro vs US Dollar")

# ---- H1 window ----
x_axis("x2", dx(519, 986), [-0.35, 161.1], "y2", h1_separators)
y_axis("y2", dy(22, 225), [1.13203, 1.14874], "x2", h1_price_ticks, fmt(h1_price_ticks, 5))
price_chart("x2", "y2", h1_bar, h1_open, h1_high, h1_low, h1_close, h1_line_x, h1_ma_blue, h1_ma_red,
            h1_ma_purple, h1_ma_green, h1_bb_mid, h1_bb_up, h1_bb_lo, "EURUSD, H1:  Euro vs US Dollar")
x_axis("x3", dx(519, 986), [-0.35, 161.1], "y3", h1_separators, h1_date_pos, h1_date_text)
y_axis("y3", dy(227, 263), [-0.002443, 0.002151], "x3", h1_macd_ticks, fmt(h1_macd_ticks, 6))
macd_pane("x3", "y3", h1_bar, h1_hist, h1_line_x, h1_macd, h1_signal,
          "MACD( 12, 26, 9 ) 0.000000 0.000000 0.000179 0.000182 -0.000003")

# ---- H4 window ----
x_axis("x4", dx(4, 471), [-0.23, 161.4], "y4", h4_separators)
y_axis("y4", dy(305, 525), [1.13181, 1.17020], "x4", h4_price_ticks, fmt(h4_price_ticks, 5))
price_chart("x4", "y4", h4_bar, h4_open, h4_high, h4_low, h4_close, h4_line_x, h4_ma_blue, h4_ma_red,
            h4_ma_purple, h4_ma_green, h4_bb_mid, h4_bb_up, h4_bb_lo, "EURUSD, H4:  Euro vs US Dollar")
x_axis("x5", dx(4, 471), [-0.23, 161.4], "y5", h4_separators, h4_date_pos, h4_date_text)
y_axis("y5", dy(528, 567), [-0.00571, 0.00265], "x5", h4_macd_ticks, fmt(h4_macd_ticks, 6))
macd_pane("x5", "y5", h4_bar, h4_hist, h4_line_x, h4_macd, h4_signal,
          "MACD( 12, 26, 9 ) 0.000000 0.000000 -0.000851 -0.001555 0.000704")

# ---- M10 window ----
x_axis("x6", dx(519, 986), [-0.35, 161.3], "y6", m10_separators)
y_axis("y6", dy(305, 472), [1.13769, 1.14373], "x6", m10_price_ticks, fmt(m10_price_ticks, 5))
price_chart("x6", "y6", m10_bar, m10_open, m10_high, m10_low, m10_close, m10_line_x, m10_ma_blue,
            m10_ma_red, m10_ma_purple, m10_ma_green, m10_bb_mid, m10_bb_up, m10_bb_lo,
            "EURUSD, M10:  Euro vs US Dollar")
fig.add_trace(go.Scatter(x=m10_sar_x, y=m10_sar_y, mode="markers", xaxis="x6", yaxis="y6",
                         marker=dict(color="#ffa500", size=3.6), hoverinfo="skip"))
x_axis("x7", dx(519, 986), [-0.35, 161.3], "y7", m10_separators)
y_axis("y7", dy(474, 501), [-0.001019, 0.001244], "x7", m10_macd_ticks, fmt(m10_macd_ticks, 6))
macd_pane("x7", "y7", m10_bar, m10_hist, m10_line_x, m10_macd, m10_signal,
          "MACD( 12, 26, 9 ) 0.000000 0.000000 0.000172 0.000014 0.000157")

x_axis("x8", dx(519, 986), [-0.35, 161.3], "y8", m10_separators)
y_axis("y8", dy(503, 535), [-3.68, 60.32], "x8", adx_ticks, fmt(adx_ticks, 2))
for lvl in adx_levels:
    shapes.append(dict(type="line", xref="x8 domain", x0=0, x1=1, yref="y8", y0=lvl, y1=lvl,
                       line=dict(color="#ff3030", width=1, dash="dot")))
for ys, color, width in [(m10_minus_di, "#ff6a6a", 0.8), (m10_plus_di, "#4a4aff", 0.8),
                         (m10_adx, "#17877a", 1.8)]:
    fig.add_trace(go.Scatter(x=m10_line_x, y=ys, mode="lines", xaxis="x8", yaxis="y8", hoverinfo="skip",
                             line=dict(color=color, width=width, shape="spline", smoothing=0.6)))
annotations.append(dict(xref="x8 domain", x=0, xanchor="left", xshift=2, yref="y8 domain", y=1,
                        yanchor="top", yshift=-1, text="ADX Wilder(8) 33.76 39.20 11.92", showarrow=False,
                        font=dict(family=FONT, size=7, color="#000000")))

x_axis("x9", dx(519, 986), [-0.35, 161.3], "y9", m10_separators, m10_date_pos, m10_date_text)
y_axis("y9", dy(537, 567), [0, 100], "x9", rsi_ticks, fmt(rsi_ticks, 2))
for lvl in rsi_levels:
    shapes.append(dict(type="line", xref="x9 domain", x0=0, x1=1, yref="y9", y0=lvl, y1=lvl,
                       line=dict(color="#ff3030", width=1, dash="dot")))
fig.add_trace(go.Scatter(x=m10_line_x, y=m10_rsi, mode="lines", xaxis="x9", yaxis="y9", hoverinfo="skip",
                         line=dict(color="#17877a", width=1.6, shape="spline", smoothing=0.6)))
annotations.append(dict(xref="x9 domain", x=0, xanchor="left", xshift=2, yref="y9 domain", y=1,
                        yanchor="top", yshift=-1, text="RSI(14) 66.42", showarrow=False,
                        font=dict(family=FONT, size=7, color="#000000")))

# ---- window chrome (MT5 child windows) ----
windows = [(0, 0, 511, 281, "EURUSD,Daily", False), (514, 0, 1024, 281, "EURUSD,H1", False),
           (0, 283, 511, 583, "EURUSD,H4", False), (514, 283, 1024, 583, "EURUSD,M10", True)]
for left, top, right, bottom, name, active in windows:
    bar_col = "#e5f0fb" if active else "#f2f2f2"
    txt_col = "#1a1a1a" if active else "#8a8a8a"
    if active:
        shapes.append(dict(type="rect", xref="paper", yref="paper", x0=left / W, x1=right / W,
                           y0=1 - bottom / H, y1=1 - top / H, fillcolor=bar_col,
                           line=dict(color="#a9c6e4", width=1), layer="below"))
        shapes.append(dict(type="rect", xref="paper", yref="paper", x0=(left + 4) / W, x1=(right - 3) / W,
                           y0=1 - (bottom - 6) / H, y1=1 - (top + 20) / H, fillcolor="#ffffff",
                           line=dict(width=0), layer="below"))
    else:
        shapes.append(dict(type="rect", xref="paper", yref="paper", x0=left / W, x1=right / W,
                           y0=1 - (top + 20) / H, y1=1 - top / H, fillcolor=bar_col,
                           line=dict(width=0), layer="below"))
    for ix in (7, 12):
        shapes.append(dict(type="rect", xref="paper", yref="paper", x0=(left + ix) / W,
                           x1=(left + ix + 3) / W, y0=1 - (top + 16) / H, y1=1 - (top + 7) / H,
                           line=dict(color="#3aa845", width=1.2), fillcolor="rgba(0,0,0,0)"))
    annotations.append(dict(xref="paper", yref="paper", x=(left + 20) / W, y=1 - (top + 11) / H,
                            xanchor="left", yanchor="middle", text=name, showarrow=False,
                            font=dict(family=FONT, size=9, color=txt_col)))
    for off, sym, size in [(-67, "–", 10), (-42, "□", 11), (-16, "×", 12)]:
        annotations.append(dict(xref="paper", yref="paper", x=(right + off) / W, y=1 - (top + 12) / H,
                                xanchor="center", yanchor="middle", text=sym, showarrow=False,
                                font=dict(family="DejaVu Sans", size=size, color=txt_col)))
    # small symbol icon in the chart corner
    fl = left + 4 if left == 0 else left + 7
    shapes.append(dict(type="rect", xref="paper", yref="paper", x0=(fl + 4) / W, x1=(fl + 14) / W,
                       y0=1 - (top + 35) / H, y1=1 - (top + 27) / H, fillcolor="#f6caca",
                       line=dict(color="#d9534f", width=1)))

# separators between the child windows
shapes.append(dict(type="line", xref="paper", yref="paper", x0=512.5 / W, x1=512.5 / W, y0=0, y1=1,
                   line=dict(color="#6b6b6b", width=2)))
shapes.append(dict(type="line", xref="paper", yref="paper", x0=0, x1=1, y0=1 - 282 / H, y1=1 - 282 / H,
                   line=dict(color="#6b6b6b", width=2)))
shapes.append(dict(type="line", xref="paper", yref="paper", x0=0, x1=1, y0=1, y1=1,
                   line=dict(color="#9a9a9a", width=2)))

fig.update_layout(
    width=W, height=H, margin=dict(l=0, r=0, t=0, b=0),
    paper_bgcolor="#ffffff", plot_bgcolor="#ffffff",
    showlegend=False, boxgap=0.55,
    font=dict(family=FONT, size=7, color="#000000"),
    shapes=shapes, annotations=annotations, **layout)

fig.write_html("out.html", config={"displayModeBar": False},
               post_script="document.body.style.margin='0';document.body.style.overflow='hidden';")
